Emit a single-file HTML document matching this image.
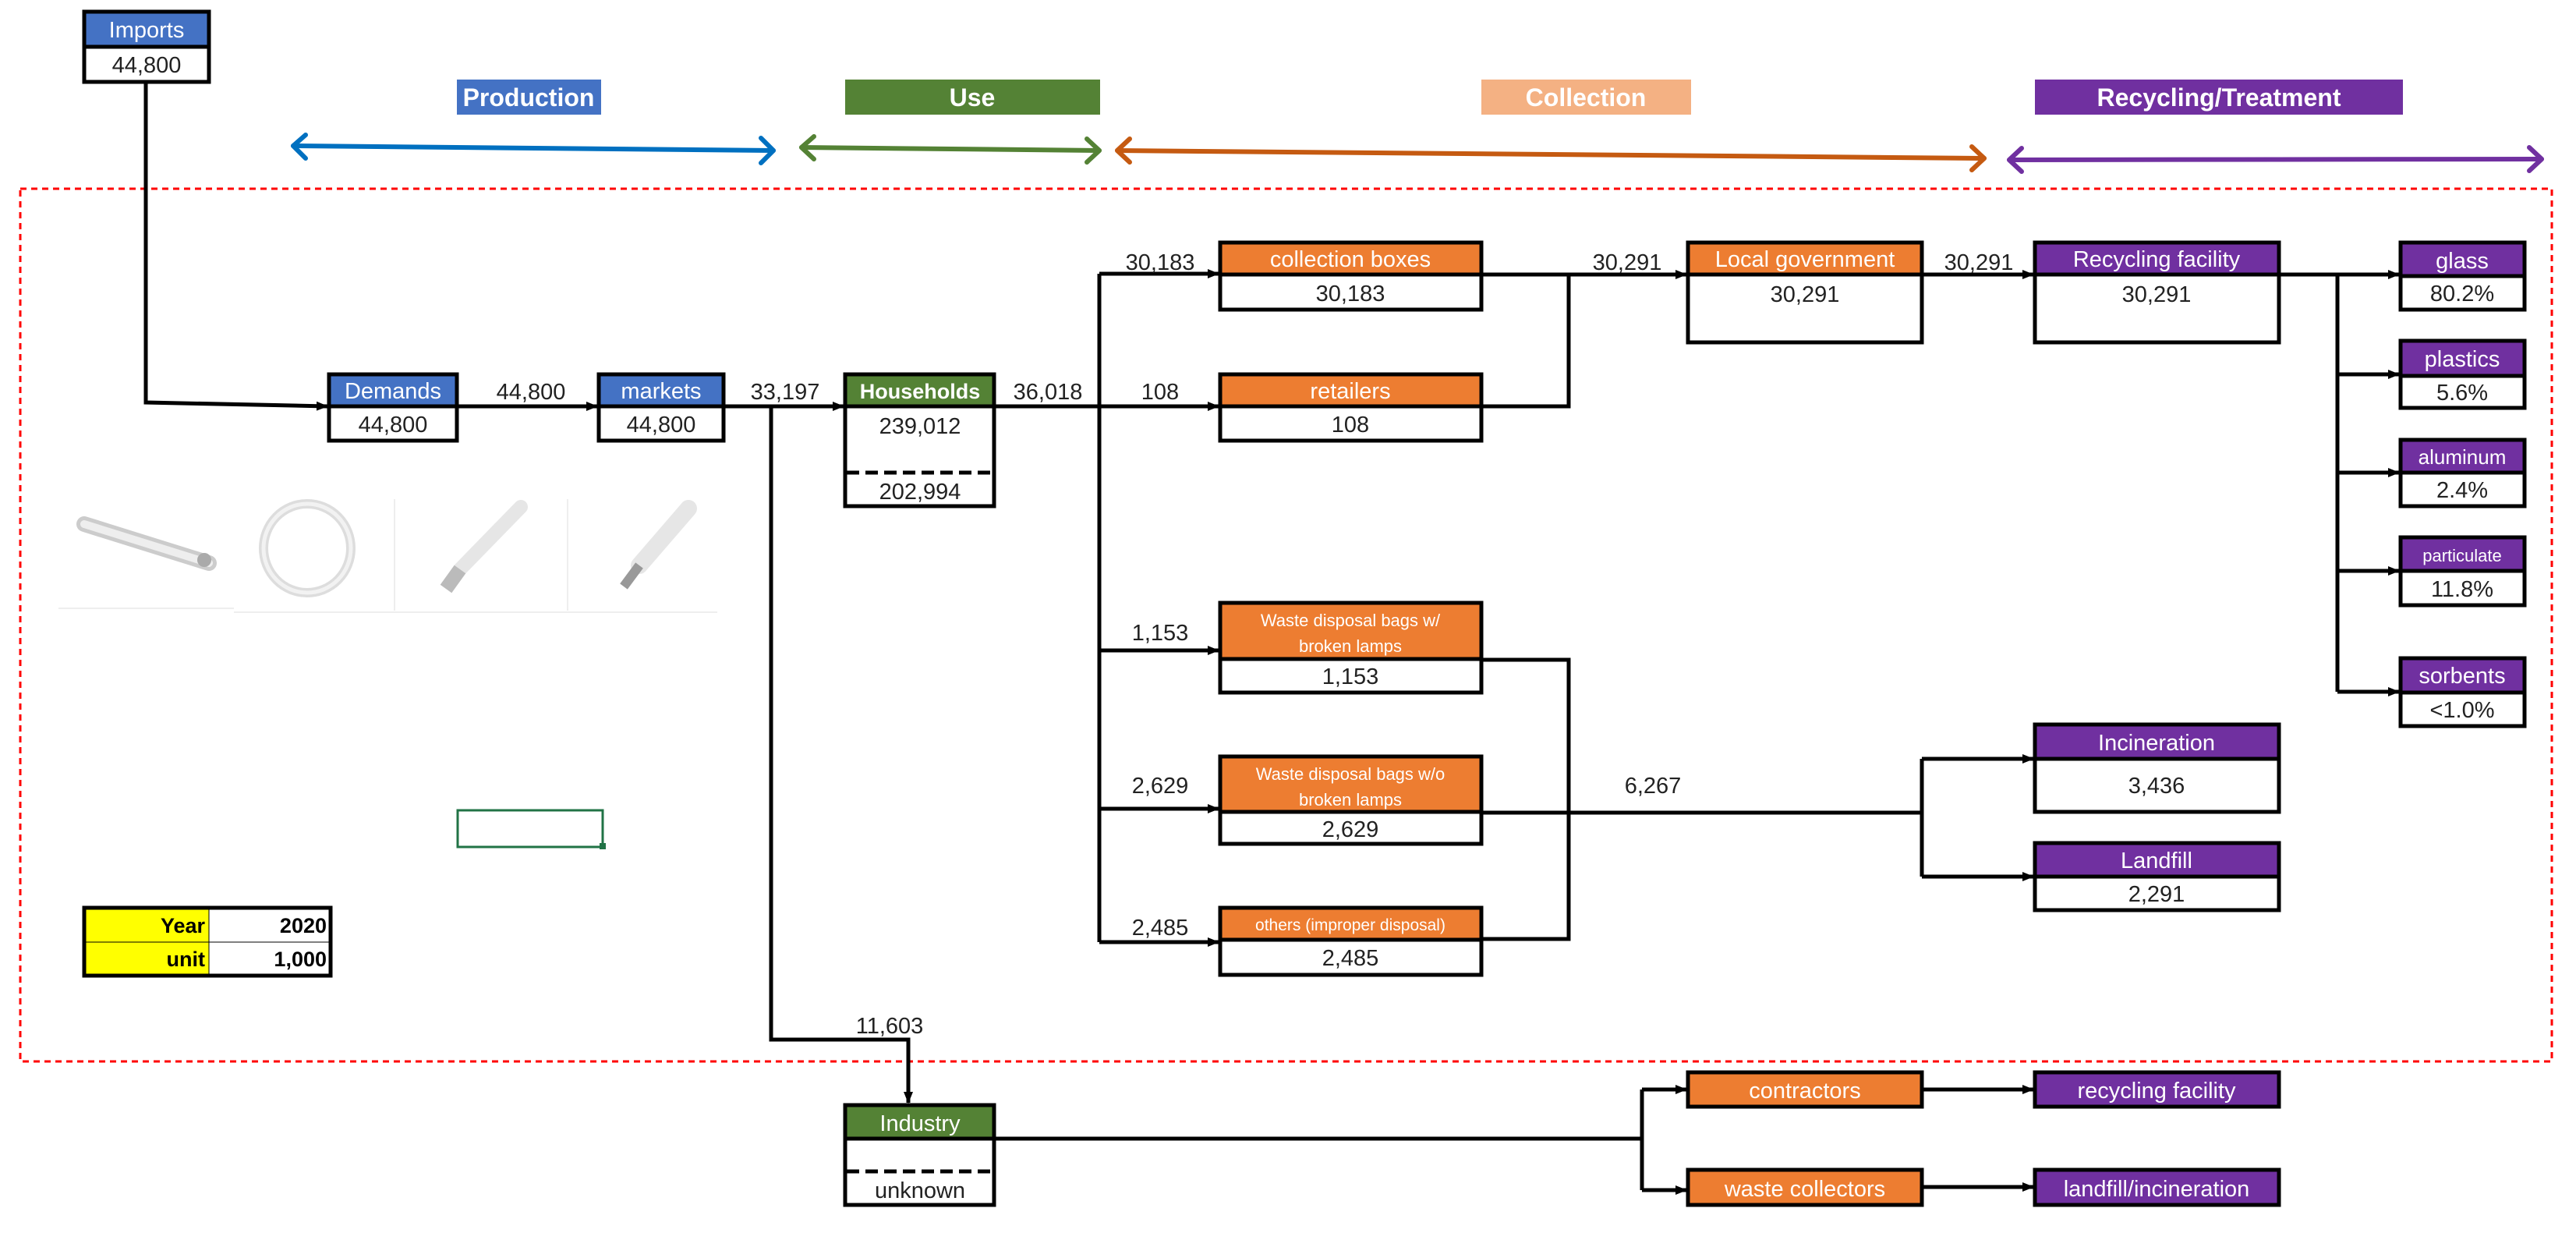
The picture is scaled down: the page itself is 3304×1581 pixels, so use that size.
<!DOCTYPE html>
<html><head><meta charset="utf-8"><style>
html,body{margin:0;padding:0;background:#fff}
svg{display:block}
text{font-family:"Liberation Sans",sans-serif}
</style></head><body>
<svg width="3304" height="1581" viewBox="0 0 3304 1581" xmlns="http://www.w3.org/2000/svg">
<defs>
<marker id="a" markerUnits="userSpaceOnUse" markerWidth="16" markerHeight="16" refX="14" refY="8" orient="auto"><path d="M0,2 L15,8 L0,14 Z" fill="#000"/></marker>
</defs>

<!-- phase labels -->
<rect x="586" y="102" width="185" height="45" fill="#4472C4"/>
<text x="678" y="136" font-size="32" font-weight="bold" fill="#fff" text-anchor="middle">Production</text>
<rect x="1084" y="102" width="327" height="45" fill="#548235"/>
<text x="1247" y="136" font-size="32" font-weight="bold" fill="#fff" text-anchor="middle">Use</text>
<rect x="1900" y="102" width="269" height="45" fill="#F4B183"/>
<text x="2034" y="136" font-size="32" font-weight="bold" fill="#fff" text-anchor="middle">Collection</text>
<rect x="2610" y="102" width="472" height="45" fill="#7030A0"/>
<text x="2846" y="136" font-size="32" font-weight="bold" fill="#fff" text-anchor="middle">Recycling/Treatment</text>

<!-- phase arrows -->
<g fill="none" stroke-width="6" stroke-linecap="round" stroke-linejoin="round">
<g stroke="#0070C0"><path d="M376,187 L992,193"/><path d="M392,173 L376,187 L392,203"/><path d="M976,177 L992,193 L976,209"/></g>
<g stroke="#548235"><path d="M1028,189 L1410,193"/><path d="M1044,175 L1028,189 L1044,204"/><path d="M1394,178 L1410,193 L1394,208"/></g>
<g stroke="#C55A11"><path d="M1433,193 L2545,203"/><path d="M1449,178 L1433,193 L1449,208"/><path d="M2529,188 L2545,203 L2529,218"/></g>
<g stroke="#7030A0"><path d="M2577,205 L3260,204"/><path d="M2593,190 L2577,205 L2593,220"/><path d="M3244,189 L3260,204 L3244,219"/></g>
</g>

<!-- red dashed boundary -->
<rect x="26" y="242" width="3247" height="1119" fill="none" stroke="#FF0000" stroke-width="3" stroke-dasharray="8,6"/>

<!-- lamp pictures -->
<g>
<line x1="75" y1="780" x2="300" y2="780" stroke="#eee" stroke-width="2"/>
<line x1="300" y1="785" x2="920" y2="785" stroke="#eee" stroke-width="2"/>
<line x1="506" y1="640" x2="506" y2="783" stroke="#eee" stroke-width="2"/>
<line x1="728" y1="640" x2="728" y2="783" stroke="#eee" stroke-width="2"/>
<path d="M108,672 L268,722" stroke="#ccc" stroke-width="20" stroke-linecap="round"/>
<path d="M108,672 L268,722" stroke="#eee" stroke-width="10" stroke-linecap="round"/>
<circle cx="262" cy="718" r="9" fill="#aaa"/>
<ellipse cx="394" cy="703" rx="56" ry="57" fill="none" stroke="#ddd" stroke-width="12"/>
<ellipse cx="394" cy="703" rx="56" ry="57" fill="none" stroke="#f2f2f2" stroke-width="5"/>
<path d="M668,650 L590,730" stroke="#e6e6e6" stroke-width="18" stroke-linecap="round"/>
<path d="M590,730 L572,755" stroke="#bbb" stroke-width="18"/>
<path d="M883,652 L820,725" stroke="#e6e6e6" stroke-width="22" stroke-linecap="round"/>
<path d="M820,725 L800,752" stroke="#999" stroke-width="12"/>
</g>

<!-- connectors -->
<g fill="none" stroke="#000" stroke-width="5">
<path d="M187,105 L187,516 L420,521" marker-end="url(#a)"/>
<path d="M586,521 L766,521" marker-end="url(#a)"/>
<path d="M928,521 L1082,521" marker-end="url(#a)"/>
<path d="M989,521 L989,1333 L1165,1333 L1165,1414" marker-end="url(#a)"/>
<path d="M1275,521 L1563,521" marker-end="url(#a)"/>
<path d="M1410,351 L1410,1208"/>
<path d="M1410,351 L1563,351" marker-end="url(#a)"/>
<path d="M1410,834 L1563,834" marker-end="url(#a)"/>
<path d="M1410,1037 L1563,1037" marker-end="url(#a)"/>
<path d="M1410,1208 L1563,1208" marker-end="url(#a)"/>
<path d="M1900,352 L2163,352" marker-end="url(#a)"/>
<path d="M1900,521 L2012,521 L2012,352"/>
<path d="M2465,352 L2608,352" marker-end="url(#a)"/>
<path d="M2923,352 L3077,352" marker-end="url(#a)"/>
<path d="M2998,352 L2998,887"/>
<path d="M2998,480 L3077,480" marker-end="url(#a)"/>
<path d="M2998,606 L3077,606" marker-end="url(#a)"/>
<path d="M2998,732 L3077,732" marker-end="url(#a)"/>
<path d="M2998,887 L3077,887" marker-end="url(#a)"/>
<path d="M1900,846 L2012,846 L2012,1204 L1900,1204"/>
<path d="M1900,1042 L2465,1042"/>
<path d="M2465,973 L2465,1124"/>
<path d="M2465,973 L2608,973" marker-end="url(#a)"/>
<path d="M2465,1124 L2608,1124" marker-end="url(#a)"/>
<path d="M1275,1460 L2106,1460"/>
<path d="M2106,1397 L2106,1526"/>
<path d="M2106,1397 L2163,1397" marker-end="url(#a)"/>
<path d="M2106,1526 L2163,1526" marker-end="url(#a)"/>
<path d="M2465,1397 L2608,1397" marker-end="url(#a)"/>
<path d="M2465,1522 L2608,1522" marker-end="url(#a)"/>
</g>

<!-- flow labels -->
<g font-size="29" fill="#222" text-anchor="middle">
<text x="681" y="512">44,800</text>
<text x="1007" y="512">33,197</text>
<text x="1344" y="512">36,018</text>
<text x="1488" y="512">108</text>
<text x="1488" y="346">30,183</text>
<text x="1488" y="821">1,153</text>
<text x="1488" y="1017">2,629</text>
<text x="1488" y="1199">2,485</text>
<text x="2087" y="346">30,291</text>
<text x="2538" y="346">30,291</text>
<text x="2120" y="1017">6,267</text>
<text x="1141" y="1325">11,603</text>
</g>

<!-- boxes -->
<g stroke="#000" stroke-width="5">
<rect x="108" y="15" width="160" height="45" fill="#4472C4"/><rect x="108" y="60" width="160" height="45" fill="#fff"/>
<rect x="422" y="480" width="164" height="41" fill="#4472C4"/><rect x="422" y="521" width="164" height="44" fill="#fff"/>
<rect x="768" y="480" width="160" height="41" fill="#4472C4"/><rect x="768" y="521" width="160" height="44" fill="#fff"/>
<rect x="1084" y="480" width="191" height="41" fill="#548235"/><rect x="1084" y="521" width="191" height="128" fill="#fff"/>
<rect x="1565" y="311" width="335" height="41" fill="#ED7D31"/><rect x="1565" y="352" width="335" height="45" fill="#fff"/>
<rect x="1565" y="480" width="335" height="41" fill="#ED7D31"/><rect x="1565" y="521" width="335" height="44" fill="#fff"/>
<rect x="1565" y="773" width="335" height="72" fill="#ED7D31"/><rect x="1565" y="845" width="335" height="43" fill="#fff"/>
<rect x="1565" y="970" width="335" height="71" fill="#ED7D31"/><rect x="1565" y="1041" width="335" height="41" fill="#fff"/>
<rect x="1565" y="1164" width="335" height="41" fill="#ED7D31"/><rect x="1565" y="1205" width="335" height="45" fill="#fff"/>
<rect x="2165" y="311" width="300" height="41" fill="#ED7D31"/><rect x="2165" y="352" width="300" height="87" fill="#fff"/>
<rect x="2610" y="311" width="313" height="41" fill="#7030A0"/><rect x="2610" y="352" width="313" height="87" fill="#fff"/>
<rect x="3079" y="311" width="159" height="43" fill="#7030A0"/><rect x="3079" y="354" width="159" height="43" fill="#fff"/>
<rect x="3079" y="437" width="159" height="45" fill="#7030A0"/><rect x="3079" y="482" width="159" height="41" fill="#fff"/>
<rect x="3079" y="564" width="159" height="42" fill="#7030A0"/><rect x="3079" y="606" width="159" height="43" fill="#fff"/>
<rect x="3079" y="689" width="159" height="43" fill="#7030A0"/><rect x="3079" y="732" width="159" height="44" fill="#fff"/>
<rect x="3079" y="844" width="159" height="44" fill="#7030A0"/><rect x="3079" y="888" width="159" height="43" fill="#fff"/>
<rect x="2610" y="929" width="313" height="44" fill="#7030A0"/><rect x="2610" y="973" width="313" height="68" fill="#fff"/>
<rect x="2610" y="1081" width="313" height="43" fill="#7030A0"/><rect x="2610" y="1124" width="313" height="43" fill="#fff"/>
<rect x="1084" y="1417" width="191" height="43" fill="#548235"/><rect x="1084" y="1460" width="191" height="85" fill="#fff"/>
<rect x="2165" y="1375" width="300" height="44" fill="#ED7D31"/>
<rect x="2610" y="1375" width="313" height="44" fill="#7030A0"/>
<rect x="2165" y="1500" width="300" height="45" fill="#ED7D31"/>
<rect x="2610" y="1500" width="313" height="45" fill="#7030A0"/>
</g>
<g stroke="#000" stroke-width="5" stroke-dasharray="16,8">
<line x1="1086" y1="606" x2="1273" y2="606"/>
<line x1="1086" y1="1502" x2="1273" y2="1502"/>
</g>

<!-- header texts -->
<g font-size="29" fill="#fff" text-anchor="middle">
<text x="188" y="48">Imports</text>
<text x="504" y="511">Demands</text>
<text x="848" y="511">markets</text>
<text x="1180" y="511" font-family="Liberation Serif,serif" font-weight="bold" font-size="27">Households</text>
<text x="1732" y="342">collection boxes</text>
<text x="1732" y="511">retailers</text>
<text x="1732" y="803" font-size="22">Waste disposal bags w/</text>
<text x="1732" y="836" font-size="22">broken lamps</text>
<text x="1732" y="1000" font-size="22">Waste disposal bags w/o</text>
<text x="1732" y="1033" font-size="22">broken lamps</text>
<text x="1732" y="1193" font-size="21">others (improper disposal)</text>
<text x="2315" y="342">Local government</text>
<text x="2766" y="342">Recycling facility</text>
<text x="3158" y="344">glass</text>
<text x="3158" y="470">plastics</text>
<text x="3158" y="595" font-size="26">aluminum</text>
<text x="3158" y="720" font-size="22">particulate</text>
<text x="3158" y="876">sorbents</text>
<text x="2766" y="962">Incineration</text>
<text x="2766" y="1113">Landfill</text>
<text x="1180" y="1450">Industry</text>
<text x="2315" y="1408">contractors</text>
<text x="2766" y="1408">recycling facility</text>
<text x="2315" y="1534">waste collectors</text>
<text x="2766" y="1534">landfill/incineration</text>
</g>

<!-- values -->
<g font-size="29" fill="#222" text-anchor="middle">
<text x="188" y="93">44,800</text>
<text x="504" y="554">44,800</text>
<text x="848" y="554">44,800</text>
<text x="1180" y="556">239,012</text>
<text x="1180" y="640">202,994</text>
<text x="1732" y="386">30,183</text>
<text x="1732" y="554">108</text>
<text x="1732" y="877">1,153</text>
<text x="1732" y="1073">2,629</text>
<text x="1732" y="1238">2,485</text>
<text x="2315" y="387">30,291</text>
<text x="2766" y="387">30,291</text>
<text x="3158" y="386">80.2%</text>
<text x="3158" y="513">5.6%</text>
<text x="3158" y="638">2.4%</text>
<text x="3158" y="765">11.8%</text>
<text x="3158" y="920">&lt;1.0%</text>
<text x="2766" y="1017">3,436</text>
<text x="2766" y="1156">2,291</text>
<text x="1180" y="1536">unknown</text>
</g>

<!-- green selection -->
<rect x="587" y="1039" width="186" height="47" fill="none" stroke="#217346" stroke-width="3"/>
<rect x="769" y="1081" width="8" height="8" fill="#217346"/>

<!-- year table -->
<g stroke="#000">
<rect x="108" y="1164" width="160" height="44" fill="#FFFF00" stroke-width="1"/>
<rect x="108" y="1208" width="160" height="43" fill="#FFFF00" stroke-width="1"/>
<rect x="268" y="1164" width="156" height="44" fill="#fff" stroke-width="1"/>
<rect x="268" y="1208" width="156" height="43" fill="#fff" stroke-width="1"/>
<rect x="108" y="1164" width="316" height="87" fill="none" stroke-width="5"/>
</g>
<g font-family="Liberation Serif,serif" font-weight="bold" font-size="27" fill="#000" text-anchor="end">
<text x="263" y="1196" font-family="Liberation Serif,serif">Year</text>
<text x="263" y="1239" font-family="Liberation Serif,serif">unit</text>
<text x="419" y="1196" font-family="Liberation Serif,serif">2020</text>
<text x="419" y="1239" font-family="Liberation Serif,serif">1,000</text>
</g>
</svg>
</body></html>
